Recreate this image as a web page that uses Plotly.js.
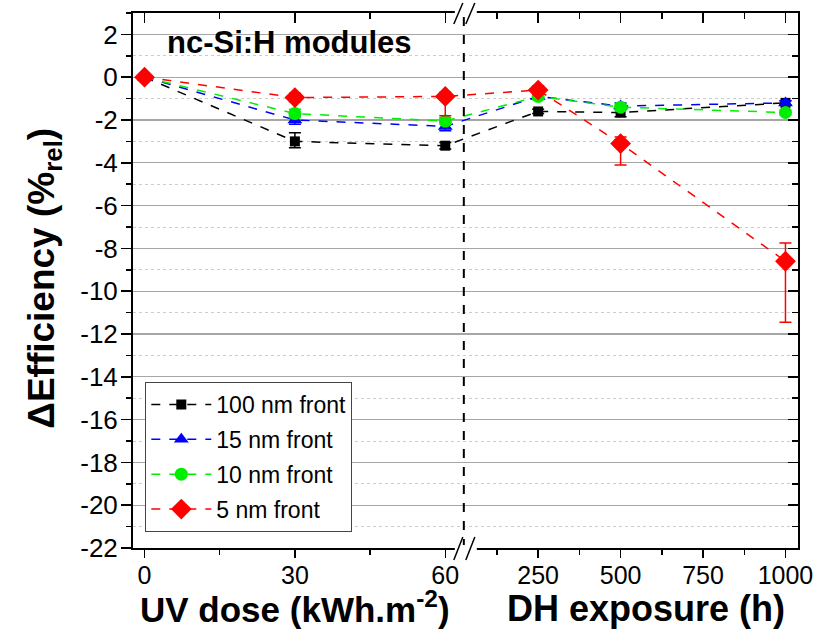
<!DOCTYPE html>
<html>
<head>
<meta charset="utf-8">
<script src="https://cdn.plot.ly/plotly-3.0.1.min.js"></script>
<style>html,body{margin:0;padding:0;background:#fff;}#chart{width:827px;height:632px;}</style>
</head>
<body>
<div id="chart"></div>
<script>
// ---- data ----
const uvDose = [0, 30, 60];            // kWh.m-2
const dhHours = [250, 500, 1000];      // h
const uvTickVals = [0, 30, 60];
const dhTickVals = [250, 500, 750, 1000];
const uvMinorVals = [15, 45];
const dhMinorVals = [125, 375, 625, 875];
const yTickVals = [-22, -20, -18, -16, -14, -12, -10, -8, -6, -4, -2, 0, 2];
const seriesNames = ['100 nm front', '15 nm front', '10 nm front', '5 nm front'];
const eff100 = [0, -3.0, -3.2, -1.6, -1.65, -1.2];
const eff15  = [0, -2.0, -2.3, -0.9, -1.35, -1.2];
const eff10  = [0, -1.7, -2.05, -0.9, -1.4, -1.65];
const eff5   = [0, -0.95, -0.9, -0.6, -3.1, -8.6];
const err100Plus = [0.1, 0.4, 0.15, 0.1, 0.2, 0.1];
const err100Minus = [0.1, 0.3, 0.15, 0.1, 0.2, 0.1];
const err15Plus = [0.1, 0.2, 0.2, 0.1, 0.15, 0.1];
const err15Minus = [0.1, 0.2, 0.2, 0.1, 0.15, 0.1];
const err10Plus = [0.1, 0.2, 0.15, 0.15, 0.15, 0.1];
const err10Minus = [0.1, 0.2, 0.15, 0.15, 0.15, 0.1];
const err5Plus = [0.1, 0.2, 0.2, 0.2, 0.3, 0.85];
const err5Minus = [0.1, 0.2, 0.9, 0.2, 1.0, 2.85];

// ---- broken axis scale: left segment in UV dose units, right segment in DH hours ----
const uvLo = -2.3, uvBreak = 63.7;      // left segment limits (kWh.m-2)
const dhBreak = 24.6, dhHi = 1038;      // right segment limits (h)
const dhScale = 0.06579;                // UV units per hour
function uvPos(d){ return d; }
function dhPos(h){ return uvBreak + (h - dhBreak) * dhScale; }
const xRange = [uvPos(uvLo), dhPos(dhHi)];
const xs = uvDose.map(uvPos).concat(dhHours.map(dhPos));
const tickVals = uvTickVals.map(uvPos).concat(dhTickVals.map(dhPos));
const tickText = uvTickVals.map(String).concat(dhTickVals.map(String));
const minorVals = uvMinorVals.map(uvPos).concat(dhMinorVals.map(dhPos));
const yTickText = yTickVals.map(String);

const FONT = 'Arial, "Liberation Sans", sans-serif';
const styles = [
  {color:'#000000', symbol:'square', size:10, y:eff100, ep:err100Plus, em:err100Minus},
  {color:'#0000ff', symbol:'triangle-up', size:13, y:eff15, ep:err15Plus, em:err15Minus},
  {color:'#00ee00', symbol:'circle', size:13, y:eff10, ep:err10Plus, em:err10Minus},
  {color:'#ff0000', symbol:'diamond', size:16, y:eff5, ep:err5Plus, em:err5Minus}
];
const traces = styles.map((s, i) => ({
  type:'scatter', mode:'lines+markers', name: seriesNames[i], legendgroup:'g'+i,
  x: xs, y: s.y,
  line:{color:s.color, width:1.5, dash:'dash'},
  marker:{color:s.color, symbol:s.symbol, size:s.size},
  error_y:{type:'data', symmetric:false, array:s.ep, arrayminus:s.em, color:s.color, thickness:1.5, width:6},
  hoverinfo:'x+y'
}));
traces.push({type:'scatter', x:[], y:[], xaxis:'x2', yaxis:'y2', showlegend:false, hoverinfo:'skip'});

const axisCommon = {showline:true, linecolor:'#000', linewidth:2, zeroline:false};
const layout = {
  width:827, height:632,
  margin:{l:133, r:29, t:13, b:84, pad:0},
  paper_bgcolor:'#fff', plot_bgcolor:'#fff',
  font:{family:FONT, color:'#000'},
  showlegend:true,
  xaxis: Object.assign({}, axisCommon, {
    range:xRange, tickmode:'array', tickvals:tickVals, ticktext:tickText,
    ticks:'outside', ticklen:8, tickwidth:1.5, tickcolor:'#000', showgrid:false,
    tickfont:{size:25, family:FONT}, ticklabelstandoff:-4,
    minor:{tickmode:'array', tickvals:minorVals, ticks:'outside', ticklen:5, tickwidth:1.5, tickcolor:'#000', showgrid:false}
  }),
  xaxis2: Object.assign({}, axisCommon, {
    overlaying:'x', side:'top', anchor:'y2', range:xRange, tickmode:'array', tickvals:tickVals,
    ticks:'inside', ticklen:10, tickwidth:1.5, tickcolor:'#000', showticklabels:false, showgrid:false,
    minor:{tickmode:'array', tickvals:minorVals, ticks:'inside', ticklen:6, tickwidth:1.5, tickcolor:'#000', showgrid:false}
  }),
  yaxis: Object.assign({}, axisCommon, {
    range:[-22, 3], tickmode:'array', tickvals:yTickVals, ticktext:yTickText,
    ticks:'outside', ticklen:10, tickwidth:1.5, tickcolor:'#000',
    showgrid:true, gridcolor:'#a6a6a6', gridwidth:1.2,
    tickfont:{size:26, family:FONT}, ticklabelstandoff:-2,
    minor:{tickmode:'linear', tick0:0, dtick:1, ticks:'outside', ticklen:5, tickwidth:1.5, tickcolor:'#000',
           showgrid:true, gridcolor:'#cccccc', griddash:'dot', gridwidth:1}
  }),
  yaxis2: Object.assign({}, axisCommon, {
    overlaying:'y', side:'right', anchor:'x2', range:[-22, 3], tickmode:'array', tickvals:yTickVals,
    ticks:'inside', ticklen:10, tickwidth:1.5, tickcolor:'#000', showticklabels:false, showgrid:false,
    minor:{tickmode:'linear', tick0:0, dtick:1, ticks:'inside', ticklen:6, tickwidth:1.5, tickcolor:'#000', showgrid:false}
  }),
  legend:{
    x:0.0185, y:0.030, xanchor:'left', yanchor:'bottom',
    bgcolor:'#fff', bordercolor:'#444', borderwidth:1,
    font:{size:23, family:FONT, color:'#000'},
    itemwidth:60, traceorder:'grouped', tracegroupgap:2
  },
  shapes:[
    {type:'line', xref:'x', yref:'paper', x0:uvBreak, x1:uvBreak, y0:0, y1:1,
     line:{color:'#000', width:2, dash:'dash'}, layer:'above'},
    // break gaps in the top and bottom axis lines
    {type:'rect', xref:'x', xsizemode:'pixel', xanchor:uvBreak, x0:-9, x1:13,
     yref:'paper', ysizemode:'pixel', yanchor:0, y0:-3, y1:3, fillcolor:'#fff', line:{width:0}, layer:'above'},
    {type:'rect', xref:'x', xsizemode:'pixel', xanchor:uvBreak, x0:-9, x1:13,
     yref:'paper', ysizemode:'pixel', yanchor:1, y0:-3, y1:3, fillcolor:'#fff', line:{width:0}, layer:'above'},
    {type:'line', xref:'x', xsizemode:'pixel', xanchor:uvBreak, x0:-10, x1:-1,
     yref:'paper', ysizemode:'pixel', yanchor:0, y0:-12, y1:11, line:{color:'#000', width:1.5}, layer:'above'},
    {type:'line', xref:'x', xsizemode:'pixel', xanchor:uvBreak, x0:2, x1:11,
     yref:'paper', ysizemode:'pixel', yanchor:0, y0:-12, y1:11, line:{color:'#000', width:1.5}, layer:'above'},
    {type:'line', xref:'x', xsizemode:'pixel', xanchor:uvBreak, x0:-10, x1:-1,
     yref:'paper', ysizemode:'pixel', yanchor:1, y0:-11, y1:10, line:{color:'#000', width:1.5}, layer:'above'},
    {type:'line', xref:'x', xsizemode:'pixel', xanchor:uvBreak, x0:2, x1:11,
     yref:'paper', ysizemode:'pixel', yanchor:1, y0:-11, y1:10, line:{color:'#000', width:1.5}, layer:'above'}
  ],
  annotations:[
    {text:'<b>nc-Si:H modules</b>', xref:'paper', yref:'paper', x:0.0475, y:0.944,
     xanchor:'left', yanchor:'middle', showarrow:false, font:{size:31, family:FONT, color:'#000'}},
    {text:'<b>ΔEfficiency (%<sub>rel</sub>)</b>', xref:'paper', yref:'paper', x:-0.134, y:0.505,
     xanchor:'center', yanchor:'middle', textangle:-90, showarrow:false, font:{size:37, family:FONT, color:'#000'}},
    {text:'<b>UV dose (kWh.m<sup>-2</sup>)</b>', xref:'paper', yref:'paper', x:0.243, y:-0.156,
     xanchor:'center', yanchor:'bottom', showarrow:false, font:{size:35, family:FONT, color:'#000'}},
    {text:'<b>DH exposure (h)</b>', xref:'paper', yref:'paper', x:0.771, y:-0.156,
     xanchor:'center', yanchor:'bottom', showarrow:false, font:{size:36, family:FONT, color:'#000'}}
  ]
};
Plotly.newPlot('chart', traces, layout, {displayModeBar:false, staticPlot:true});
</script>
</body>
</html>
